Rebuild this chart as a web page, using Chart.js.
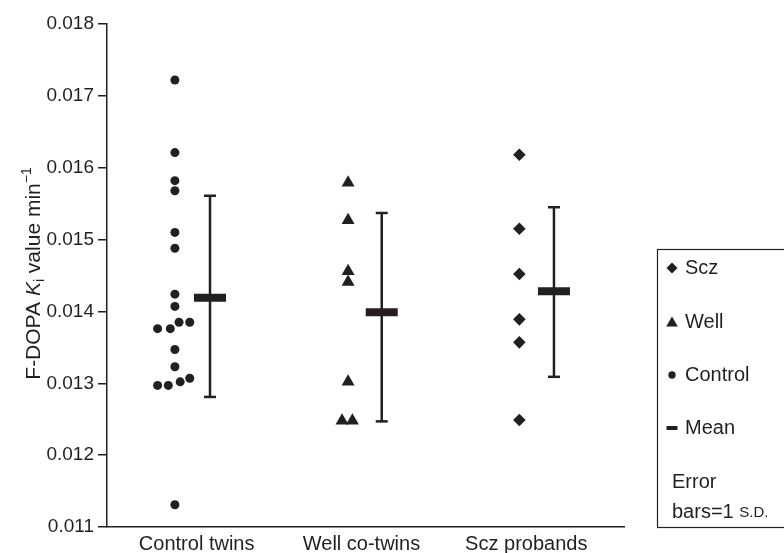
<!DOCTYPE html>
<html>
<head>
<meta charset="utf-8">
<script src="https://cdn.jsdelivr.net/npm/chart.js@4.4.1/dist/chart.umd.min.js"></script>
<style>
  html, body { margin: 0; padding: 0; background: #fff; }
  #wrap { width: 784px; height: 553px; position: relative; }
</style>
</head>
<body>
<div id="wrap"><canvas id="kiChart"></canvas></div>
<script>
// groups along the x axis
var groups = ['Control twins', 'Well co-twins', 'Scz probands'];

// individual F-DOPA Ki values
var controlKi = [0.01722, 0.01621, 0.01582, 0.01568, 0.01510, 0.01488, 0.01424, 0.01407,
                 0.01385, 0.01385, 0.01376, 0.01376, 0.01347, 0.01323, 0.01307, 0.01302,
                 0.01297, 0.01297, 0.01131];
// sideways place of each dot relative to the group label (category units)
var controlJitter = [-0.132, -0.132, -0.132, -0.132, -0.132, -0.132, -0.132, -0.132,
                     -0.107, -0.042, -0.237, -0.160, -0.132, -0.132, -0.042, -0.100,
                     -0.237, -0.172, -0.132];

var wellKi = [0.01579, 0.01527, 0.01456, 0.01441, 0.01302, 0.01248, 0.01248];
var wellJitter = [-0.081, -0.081, -0.081, -0.081, -0.081, -0.118, -0.055];

var sczKi = [0.01618, 0.01515, 0.01452, 0.01389, 0.01357, 0.01249];
var sczJitter = [-0.042, -0.042, -0.042, -0.042, -0.042, -0.042];

// group mean and ends of the +/- 1 SD bars
var groupMean = [0.01419, 0.01399, 0.01428];
var sdLow = [0.01281, 0.01247, 0.01309];
var sdHigh = [0.01561, 0.01537, 0.01545];
var meanShift = [0.081, 0.123, 0.168];

var yMin = 0.011, yMax = 0.018, yStep = 0.001;

var INK = '#231f20';
var FONT = '"Liberation Sans", Arial, Helvetica, sans-serif';

function toPoints(vals, jitter, g) {
  return vals.map(function (v, i) { return { x: g + jitter[i], y: v }; });
}

function markerSet(label, vals, jitter, g, style, r) {
  return {
    label: label,
    data: toPoints(vals, jitter, g),
    pointStyle: style,
    pointRadius: r,
    pointBackgroundColor: INK,
    pointBorderColor: INK,
    pointBorderWidth: 0,
    showLine: false
  };
}

var datasets = [];

// mean bars (first = drawn on top)
datasets.push({
  label: 'Mean',
  data: groupMean.map(function (m, g) { return { x: g + meanShift[g], y: m }; }),
  pointStyle: 'line',
  pointRadius: 16,
  pointBorderWidth: 8,
  pointBorderColor: INK,
  showLine: false
});

// error bars, one short capped line per group
groups.forEach(function (name, g) {
  datasets.push({
    label: 'SD ' + name,
    data: [{ x: g + meanShift[g], y: sdLow[g] }, { x: g + meanShift[g], y: sdHigh[g] }],
    showLine: true,
    borderColor: INK,
    borderWidth: 2.5,
    pointStyle: 'line',
    pointRadius: 6,
    pointBorderWidth: 2.5,
    pointBorderColor: INK
  });
});

datasets.push(markerSet('Control', controlKi, controlJitter, 0, 'circle', 4.5));
datasets.push(markerSet('Well', wellKi, wellJitter, 1, 'triangle', 7.5));
datasets.push(markerSet('Scz', sczKi, sczJitter, 2, 'rectRot', 6.3));

// y axis title with italic K, subscript i and superscript -1
var axisTitle = {
  id: 'axisTitle',
  afterDraw: function (chart) {
    var ctx = chart.ctx;
    var area = chart.chartArea;
    var parts = [
      { t: 'F-DOPA ', f: '21px ' + FONT, dy: 0 },
      { t: 'K', f: 'italic 21px ' + FONT, dy: 0 },
      { t: 'i', f: '14px ' + FONT, dy: 4 },
      { t: ' value min', f: '21px ' + FONT, dy: 0 },
      { t: '\u22121', f: '14px ' + FONT, dy: -9 }
    ];
    ctx.save();
    var total = 0;
    parts.forEach(function (p) { ctx.font = p.f; p.w = ctx.measureText(p.t).width; total += p.w; });
    ctx.translate(40, (area.top + area.bottom) / 2 - 2);
    ctx.rotate(-Math.PI / 2);
    ctx.fillStyle = INK;
    ctx.textBaseline = 'alphabetic';
    ctx.textAlign = 'left';
    var x = -total / 2;
    parts.forEach(function (p) {
      ctx.font = p.f;
      ctx.fillText(p.t, x, p.dy);
      x += p.w;
    });
    ctx.restore();
  }
};

// boxed key on the right
var keyBox = {
  id: 'keyBox',
  afterDraw: function (chart) {
    var ctx = chart.ctx;
    ctx.save();
    ctx.strokeStyle = INK;
    ctx.lineWidth = 1.2;
    ctx.strokeRect(657.5, 249.5, 140, 278);
    ctx.fillStyle = INK;
    ctx.font = '20px ' + FONT;
    ctx.textBaseline = 'middle';
    ctx.textAlign = 'left';
    var sx = 672, tx = 685;

    // diamond
    var y = 268;
    ctx.beginPath();
    ctx.moveTo(sx - 5.5, y); ctx.lineTo(sx, y - 5.5); ctx.lineTo(sx + 5.5, y); ctx.lineTo(sx, y + 5.5);
    ctx.closePath(); ctx.fill();
    ctx.fillText('Scz', tx, y);

    // triangle
    y = 322;
    ctx.beginPath();
    ctx.moveTo(sx, y - 5.5); ctx.lineTo(sx + 5.8, y + 4.5); ctx.lineTo(sx - 5.8, y + 4.5);
    ctx.closePath(); ctx.fill();
    ctx.fillText('Well', tx, y);

    // dot
    y = 375;
    ctx.beginPath();
    ctx.arc(sx, y, 3.7, 0, Math.PI * 2);
    ctx.fill();
    ctx.fillText('Control', tx, y);

    // mean dash
    y = 428;
    ctx.fillRect(sx - 5.5, y - 2, 11, 4);
    ctx.fillText('Mean', tx, y);

    ctx.fillText('Error', sx, 482);
    var w = ctx.measureText('bars=1 ').width;
    ctx.fillText('bars=1 ', sx, 512);
    ctx.font = '15px ' + FONT;
    ctx.fillText('S.D.', sx + w, 513);
    ctx.restore();
  }
};

new Chart(document.getElementById('kiChart'), {
  type: 'scatter',
  data: { datasets: datasets },
  options: {
    responsive: true,
    maintainAspectRatio: false,
    animation: false,
    events: [],
    layout: { padding: { left: 0, top: 21, right: 160, bottom: 0 } },
    plugins: {
      legend: { display: false },
      tooltip: { enabled: false }
    },
    scales: {
      x: {
        type: 'linear',
        min: -0.544,
        max: 2.593,
        afterBuildTicks: function (scale) {
          scale.ticks = groups.map(function (n, i) { return { value: i }; });
        },
        afterFit: function (scale) { scale.height = 26; },
        grid: { display: false, drawTicks: false },
        border: { display: true, color: INK, width: 1.5 },
        ticks: {
          color: INK,
          padding: 5,
          font: { family: FONT, size: 20 },
          callback: function (v) { return groups[v]; }
        }
      },
      y: {
        min: yMin,
        max: yMax,
        afterFit: function (scale) { scale.width = 107; },
        grid: { display: true, drawOnChartArea: false, drawTicks: true, tickLength: 9, color: INK, lineWidth: 1.5 },
        border: { display: true, color: INK, width: 1.5 },
        ticks: {
          stepSize: yStep,
          color: INK,
          padding: 4,
          font: { family: FONT, size: 19 },
          callback: function (v) { return v.toFixed(3); }
        }
      }
    }
  },
  plugins: [axisTitle, keyBox]
});
</script>
</body>
</html>
